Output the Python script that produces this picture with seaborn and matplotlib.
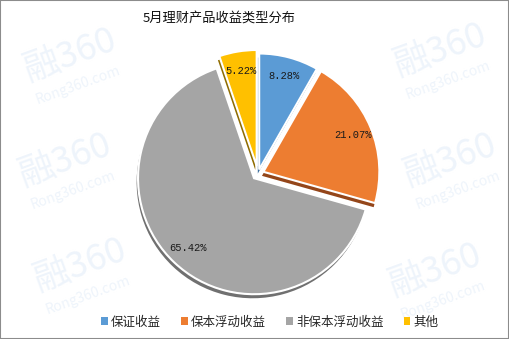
import matplotlib
matplotlib.use("Agg")
import matplotlib.pyplot as plt
from matplotlib.patches import Patch, Rectangle
import seaborn as sns

# ---- data ----
title = "5月理财产品收益类型分布"
categories = ["保证收益", "保本浮动收益", "非保本浮动收益", "其他"]
values = [8.28, 21.07, 65.42, 5.22]
labels = ["8.28%", "21.07%", "65.42%", "5.22%"]
colors = ["#5B9BD5", "#ED7D31", "#A5A5A5", "#FFC000"]
shadow_colors = ["#3E6F9E", "#94461A", "#707070", "#8F6C00"]
explode = [0.04, 0.05, 0.05, 0.07]

sns.set_theme(style="white")
plt.rcParams['font.family'] = ['Noto Sans CJK SC', 'DejaVu Sans']

W, H = 509, 339
fig = plt.figure(figsize=(W / 100, H / 100), dpi=100)
fig.patch.set_facecolor("white")

# faint watermarks
wm_pos = [(70, 55), (65, 160), (80, 265), (440, 50), (450, 160), (435, 270)]
for (px, py) in wm_pos:
    fig.text(px / W, 1 - py / H, "融360", fontsize=26, color="#EEF4FB",
             rotation=20, ha="center", va="center", zorder=0)
    fig.text((px + 8) / W, 1 - (py + 30) / H, "Rong360.com", fontsize=10,
             color="#EEF4FB", rotation=20, ha="center", va="center", zorder=0)

# pie axes: center (258,174) px, radius 116 px
cx, cy, R = 258, 174, 116
half = 135
ax = fig.add_axes([(cx - half) / W, (H - cy - half) / H, 2 * half / W, 2 * half / H])
ax.patch.set_alpha(0)
lim = half / R

# shadow (3D depth) layer
ax.pie(values, colors=shadow_colors, startangle=90, counterclock=False,
       explode=explode, center=(-0.012, -0.035),
       wedgeprops=dict(linewidth=0))
# main layer
wedges, texts, autotexts = ax.pie(
    values, colors=colors, startangle=90, counterclock=False,
    explode=explode, autopct="%.2f%%", pctdistance=0.83,
    wedgeprops=dict(edgecolor="white", linewidth=1.5),
    textprops=dict(family=["Liberation Mono", "DejaVu Sans Mono"], fontsize=7.5, color="#1a1a1a"))
for t, lab in zip(autotexts, labels):
    t.set_text(lab)
ax.set_xlim(-lim, lim)
ax.set_ylim(-lim, lim)
ax.set_aspect("equal")
ax.axis("off")

fig.text(143 / W, 1 - 18 / H, title, fontsize=9.5, color="#111111",
         ha="left", va="center")

handles = [Patch(facecolor=c, edgecolor="none", label=l) for c, l in zip(colors, categories)]
fig.legend(handles=handles, loc="center", bbox_to_anchor=(0.53, 1 - 322 / H), ncol=4,
           frameon=False, fontsize=9, handlelength=0.55, handleheight=0.55,
           handletextpad=0.25, columnspacing=1.6)

fig.patches.append(Rectangle((0, 0), 1, 1, transform=fig.transFigure, fill=False,
                             edgecolor="#8c8c8c", linewidth=1.5))

fig.savefig("out.png", dpi=100)
